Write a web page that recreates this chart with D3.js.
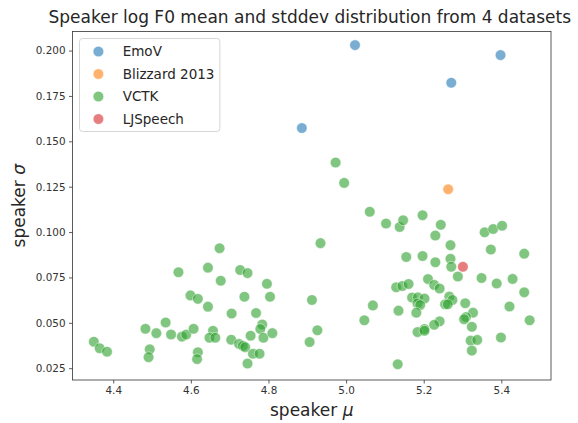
<!DOCTYPE html>
<html>
<head>
<meta charset="utf-8">
<script src="https://cdn.jsdelivr.net/npm/d3@7"></script>
<style>
body { margin: 0; background: #fff; }
text { font-family: "DejaVu Sans", sans-serif; }
</style>
</head>
<body>
<div id="chart"></div>
<script>

// datasets
var emovX = [5.023, 5.398, 5.271, 4.886];
var emovY = [0.2030, 0.1975, 0.1823, 0.1573];

var blizzardX = [5.263];
var blizzardY = [0.1236];

var vctkX = [4.350, 4.365, 4.384, 4.483, 4.494, 4.491, 4.511, 4.535, 4.549, 4.568,
  4.577, 4.588, 4.599, 4.607, 4.618, 4.618, 4.616, 4.644, 4.644, 4.657,
  4.648, 4.663, 4.674, 4.677, 4.705, 4.704, 4.727, 4.746, 4.738, 4.724,
  4.734, 4.740, 4.754, 4.768, 4.784, 4.779, 4.787, 4.796, 4.804, 4.810,
  4.760, 4.777, 4.746, 4.912, 4.926, 4.906, 4.934, 4.973, 4.995, 5.047,
  5.061, 5.069, 5.103, 5.129, 5.145, 5.161, 5.133, 5.135, 5.138, 5.147,
  5.155, 5.197, 5.244, 5.230, 5.269, 5.357, 5.379, 5.402, 5.373, 5.459,
  5.197, 5.230, 5.269, 5.271, 5.288, 5.349, 5.388, 5.429, 5.459, 5.211,
  5.227, 5.241, 5.170, 5.185, 5.202, 5.184, 5.191, 5.181, 5.266, 5.274,
  5.255, 5.262, 5.307, 5.327, 5.309, 5.304, 5.324, 5.421, 5.473, 5.241,
  5.227, 5.202, 5.184, 5.202, 5.321, 5.338, 5.324, 5.399];
var vctkY = [0.0396, 0.0360, 0.0341, 0.0467, 0.0354, 0.0311, 0.0443, 0.0502, 0.0436, 0.0779,
  0.0424, 0.0435, 0.0651, 0.0467, 0.0632, 0.0338, 0.0300, 0.0804, 0.0589, 0.0456,
  0.0418, 0.0418, 0.0911, 0.0732, 0.0551, 0.0407, 0.0791, 0.0774, 0.0644, 0.0384,
  0.0373, 0.0366, 0.0429, 0.0554, 0.0491, 0.0466, 0.0418, 0.0715, 0.0644, 0.0443,
  0.0330, 0.0330, 0.0276, 0.0626, 0.0459, 0.0394, 0.0939, 0.1383, 0.1271, 0.0514,
  0.1112, 0.0596, 0.1047, 0.0696, 0.0703, 0.0714, 0.0272, 0.0567, 0.1028, 0.1065,
  0.0863, 0.1093, 0.1040, 0.0981, 0.0928, 0.0999, 0.1017, 0.1035, 0.0904, 0.0881,
  0.0868, 0.0834, 0.0853, 0.0809, 0.0755, 0.0747, 0.0717, 0.0742, 0.0668, 0.0741,
  0.0709, 0.0689, 0.0639, 0.0640, 0.0634, 0.0607, 0.0598, 0.0556, 0.0645, 0.0626,
  0.0602, 0.0602, 0.0608, 0.0556, 0.0532, 0.0520, 0.0478, 0.0590, 0.0514, 0.0508,
  0.0489, 0.0466, 0.0449, 0.0456, 0.0402, 0.0406, 0.0347, 0.0419];

var ljX = [5.301];
var ljY = [0.0809];

var seriesNames = ["EmoV", "Blizzard 2013", "VCTK", "LJSpeech"];
var seriesColours = ["#1f77b4", "#ff7f0e", "#2ca02c", "#d62728"];

var xTicks = [4.4, 4.6, 4.8, 5.0, 5.2, 5.4];
var yTicks = [0.025, 0.050, 0.075, 0.100, 0.125, 0.150, 0.175, 0.200];

var width = 578,
height = 423;

var margin = {left: 72.5, right: 27, top: 31.5, bottom: 43};

var svg = d3.select("#chart")
.append("svg")
.attr("width", width)
.attr("height", height);

var x = d3.scaleLinear()
.domain([4.295, 5.528])
.range([margin.left, width - margin.right]);

var y = d3.scaleLinear()
.domain([0.0185, 0.2105])
.range([height - margin.bottom, margin.top]);

var xAxis = d3.axisBottom(x)
.tickValues(xTicks)
.tickFormat(d3.format(".1f"))
.tickSize(3.5)
.tickPadding(3.5);

var yAxis = d3.axisLeft(y)
.tickValues(yTicks)
.tickFormat(d3.format(".3f"))
.tickSize(3.5)
.tickPadding(3.5);

var gx = svg.append("g")
.attr("transform", "translate(0," + (height - margin.bottom) + ")")
.call(xAxis);

var gy = svg.append("g")
.attr("transform", "translate(" + margin.left + ",0)")
.call(yAxis);

[gx, gy].forEach(function(g) {
  g.select(".domain").remove();
  g.selectAll(".tick line").attr("stroke", "#333").attr("stroke-width", 0.8);
  g.selectAll(".tick text")
  .style("font-family", "DejaVu Sans")
  .style("font-size", "10.4px")
  .attr("fill", "#333");
});

// points, same draw order as the source
var series = [
  {x: emovX, y: emovY},
  {x: blizzardX, y: blizzardY},
  {x: vctkX, y: vctkY},
  {x: ljX, y: ljY}
];

var pointRadius = 5.3;

series.forEach(function(s, i) {
  svg.append("g")
  .selectAll("circle")
  .data(s.x)
  .enter()
  .append("circle")
  .attr("cx", function(d) { return x(d); })
  .attr("cy", function(d, j) { return y(s.y[j]); })
  .attr("r", pointRadius)
  .attr("fill", seriesColours[i])
  .attr("fill-opacity", 0.6)
  .attr("stroke", "#fff")
  .attr("stroke-opacity", 0.6)
  .attr("stroke-width", 0.8);
});

// frame
svg.append("rect")
.attr("x", margin.left)
.attr("y", margin.top)
.attr("width", width - margin.left - margin.right)
.attr("height", height - margin.top - margin.bottom)
.attr("fill", "none")
.attr("stroke", "#333")
.attr("stroke-width", 0.8);

// title
svg.append("text")
.attr("x", (margin.left + width - margin.right) / 2 - 2)
.attr("y", 22.5)
.attr("text-anchor", "middle")
.style("font-size", "17px")
.attr("fill", "#262626")
.text("Speaker log F0 mean and stddev distribution from 4 datasets");

// axis labels
var xLabel = svg.append("text")
.attr("x", (margin.left + width - margin.right) / 2)
.attr("y", 416)
.attr("text-anchor", "middle")
.style("font-size", "17px")
.attr("fill", "#262626");
xLabel.append("tspan").text("speaker ");
xLabel.append("tspan").style("font-style", "italic").text("μ");

var yLabel = svg.append("text")
.attr("transform", "translate(24.5," + ((margin.top + height - margin.bottom) / 2) + ") rotate(-90)")
.attr("text-anchor", "middle")
.style("font-size", "17px")
.attr("fill", "#262626");
yLabel.append("tspan").text("speaker ");
yLabel.append("tspan").style("font-style", "italic").text("σ");

// legend
var legendFont = 13.5;

var legend = svg.append("g")
.attr("transform", "translate(79.5,38.5)");

var legendBox = legend.append("rect")
.attr("height", 93)
.attr("rx", 3)
.attr("fill", "#fff")
.attr("fill-opacity", 0.8)
.attr("stroke", "#ccc")
.attr("stroke-width", 0.8);

var legendRow = 22.5;

var items = legend.selectAll(".legend_item")
.data(seriesNames)
.enter()
.append("g")
.attr("class", "legend_item")
.attr("transform", function(d, i) { return "translate(0," + (13 + i * legendRow) + ")"; });

items.append("circle")
.attr("cx", 18.9)
.attr("cy", 0)
.attr("r", pointRadius)
.attr("fill", function(d, i) { return seriesColours[i]; })
.attr("fill-opacity", 0.6)
.attr("stroke", "#fff")
.attr("stroke-opacity", 0.6)
.attr("stroke-width", 0.8);

var labels = items.append("text")
.attr("x", 43.2)
.attr("y", 0)
.attr("dy", "0.35em")
.style("font-size", legendFont + "px")
.attr("fill", "#262626")
.text(function(d) { return d; });

// fit box to the widest label
var maxLabel = d3.max(labels.nodes(), function(n) { return n.getComputedTextLength(); });
legendBox.attr("width", 43.2 + maxLabel + legendFont * 0.4);

</script>
</body>
</html>
